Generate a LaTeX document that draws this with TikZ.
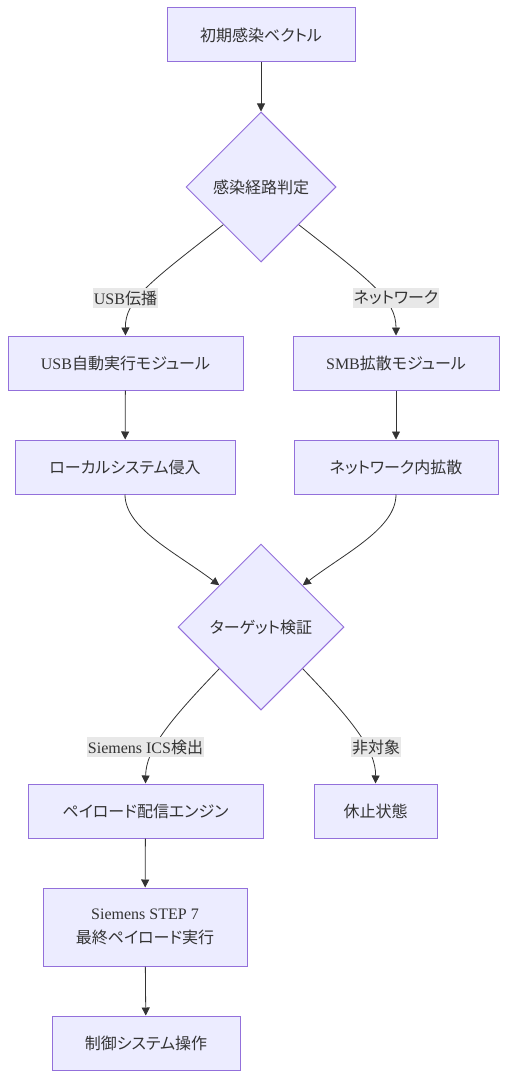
\documentclass[tikz,border=0pt]{standalone}
\usepackage{fontspec}
\setmainfont{Liberation Serif}
\newfontfamily\jpfont[RawFeature=+palt]{Noto Sans CJK JP}
\usetikzlibrary{shapes.geometric, arrows.meta}

\definecolor{boxfill}{HTML}{ECECFF}
\definecolor{boxline}{HTML}{9370DB}
\definecolor{edgecol}{HTML}{333333}
\definecolor{lblfill}{HTML}{E8E8E8}

\tikzset{
  stepbox/.style={draw=boxline, fill=boxfill, line width=1pt, text=edgecol,
    minimum height=54pt, inner sep=0pt, align=center,
    font=\fontsize{16}{24}\selectfont},
  choice/.style={diamond, aspect=1, draw=boxline, fill=boxfill, line width=1pt,
    text=edgecol, inner sep=0pt, font=\fontsize{16}{24}\selectfont},
  edge/.style={draw=edgecol, line width=0.8pt,
    -{Triangle[length=8pt,width=8pt]}},
  lbl/.style={fill=lblfill, text=edgecol, inner xsep=1pt, inner ysep=3pt,
    font=\fontsize{16}{20}\selectfont}
}

\begin{document}
\begin{tikzpicture}[x=1pt,y=-1pt]
\useasboundingbox (0,0) rectangle (507,1078);

% nodes
\node[stepbox, minimum width=188pt] (vec) at (261,35) {\jpfont 初期感染ベクトル};
\node[choice, minimum width=150pt, minimum height=150pt] (route) at (261,187) {\jpfont 感染経路判定};
\node[stepbox, minimum width=235pt] (usb) at (125.5,363) {USB{\jpfont 自動実行モジュール}};
\node[stepbox, minimum width=206pt] (smb) at (396,363) {SMB{\jpfont 拡散モジュール}};
\node[stepbox, minimum width=220pt] (local) at (125,467) {\jpfont ローカルシステム侵入};
\node[stepbox, minimum width=204pt] (spread) at (396,467) {\jpfont ネットワーク内拡散};
\node[choice, minimum width=166pt, minimum height=166pt] (target) at (261,627) {\jpfont ターゲット検証};
\node[stepbox, minimum width=235pt] (payload) at (145.5,811) {\jpfont ペイロード配信エンジン};
\node[stepbox, minimum width=123pt] (sleep) at (375.5,811) {\jpfont 休止状態};
\node[stepbox, minimum width=204pt, minimum height=78pt] (step7) at (145,927) {Siemens STEP 7\\{\jpfont 最終ペイロード実行}};
\node[stepbox, minimum width=188pt] (ctrl) at (146,1043) {\jpfont 制御システム操作};

% connectors
\draw[edge] (vec) -- (route);
\draw[edge] (route.south west) .. controls (150,282) and (125,300) .. (usb.north);
\draw[edge] (route.south east) .. controls (372,282) and (396,300) .. (smb.north);
\draw[edge] (usb) -- (local);
\draw[edge] (smb) -- (spread);
\draw[edge] (local.south) .. controls (125,528) and (175,552) .. (target.north west);
\draw[edge] (spread.south) .. controls (396,528) and (347,552) .. (target.north east);
\draw[edge] (target.south west) .. controls (168,722) and (146,750) .. (payload.north);
\draw[edge] (target.south east) .. controls (352,720) and (376,750) .. (sleep.north);
\draw[edge] (payload) -- (step7);
\draw[edge] (step7) -- (ctrl);

% edge labels
\node[lbl] (lusb) at (125.5,298) {USB{\jpfont 伝播}};
\node[lbl] (lnet) at (396,298) {\jpfont ネットワーク};
\node[lbl] (lics) at (145.5,747) {Siemens ICS{\jpfont 検出}};
\node[lbl] (lnot) at (376,747) {\jpfont 非対象};

\end{tikzpicture}
\end{document}
